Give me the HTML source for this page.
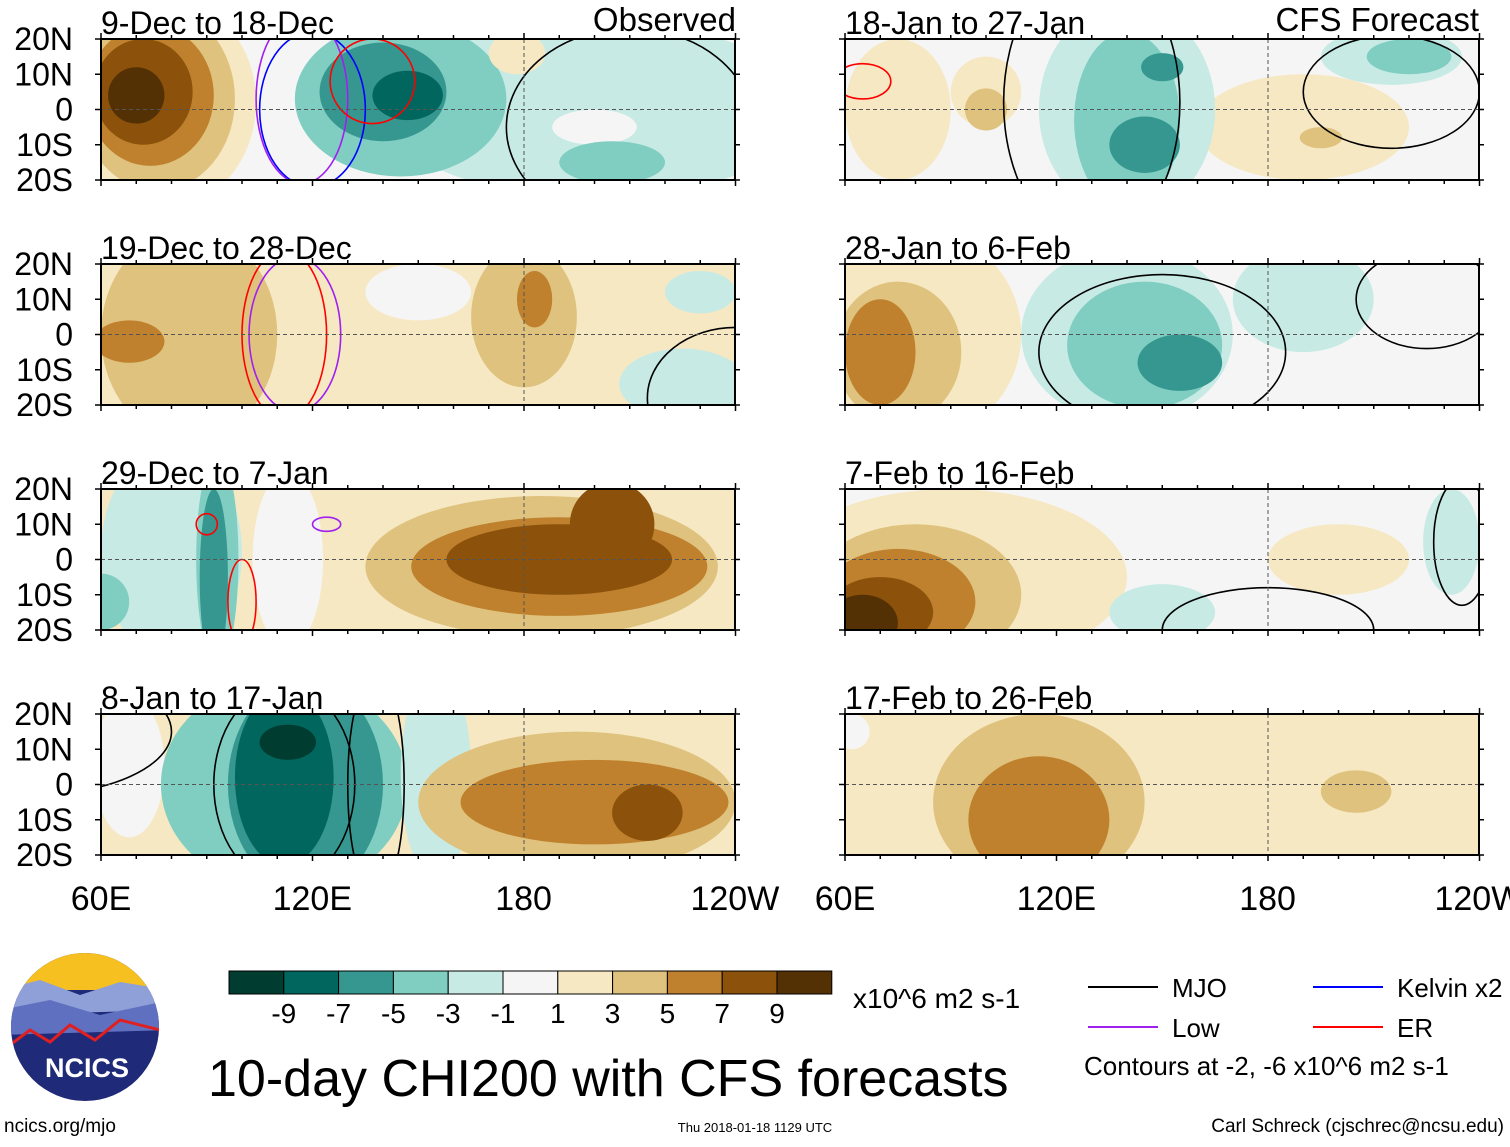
<!DOCTYPE html>
<html><head><meta charset="utf-8">
<style>
body{margin:0;background:#fff;width:1510px;height:1142px;overflow:hidden;font-family:"Liberation Sans",sans-serif;}
svg text{font-family:"Liberation Sans",sans-serif;}
</style></head>
<body>
<svg id="chart" width="1510" height="1142" xmlns="http://www.w3.org/2000/svg"></svg>
<script>
const colors=["#003c30","#01665e","#35978f","#80cdc1","#c7eae5","#f5f5f5","#f6e8c3","#dfc27d","#bf812d","#8c510a","#543005"];
const cbLabels=["-9","-7","-5","-3","-1","1","3","5","7","9"];
const titles=["9-Dec to 18-Dec","19-Dec to 28-Dec","29-Dec to 7-Jan","8-Jan to 17-Jan","18-Jan to 27-Jan","28-Jan to 6-Feb","7-Feb to 16-Feb","17-Feb to 26-Feb"];
const latLabels=["20N","10N","0","10S","20S"];
const lonLabels=["60E","120E","180","120W"];
const bgLevels=[5,6,6,6,5,5,5,6];
// blobs: [lon, lat, rxDeg, ryDeg, levelIndex]
const blobs0=[[200,0,60,25,4],[78,2,26,30,6],[76,3,22,26,7],[74,4,18,20,8],[72,5,14,15,9],[70,4,8,8,10],[145,3,30,22,3],[140,5,18,14,2],[147,4,10,7,1],[200,-5,12,5,5],[178,16,8,6,6],[205,-15,15,6,3]];
const blobs1=[[85,0,25,30,7],[68,-2,10,6,8],[180,5,15,20,7],[183,10,5,8,8],[225,-14,18,10,4],[230,12,10,6,4],[150,12,15,8,5]];
const blobs2=[[80,2,20,30,4],[93,0,6,30,3],[92,-5,4,25,2],[113,0,10,25,5],[185,-2,50,20,7],[190,-2,42,14,8],[190,0,32,10,9],[205,10,12,12,9],[60,-12,8,8,3]];
const blobs3=[[68,5,10,20,5],[112,0,35,30,3],[118,0,22,30,2],[112,2,14,25,1],[113,12,8,5,0],[155,3,10,30,4],[195,-5,45,20,7],[200,-5,38,12,8],[215,-8,10,8,9]];
const blobs4=[[75,0,15,20,6],[100,5,10,10,6],[100,0,6,6,7],[190,-5,30,15,6],[195,-8,6,3,7],[140,0,25,30,4],[140,-3,15,25,3],[145,-10,10,8,2],[150,12,6,4,2],[215,15,20,8,4],[220,15,12,5,3]];
const blobs5=[[80,0,30,30,6],[75,-5,18,20,7],[70,-5,10,15,8],[190,10,20,15,4],[140,0,30,25,4],[145,-3,22,18,3],[155,-8,12,8,2]];
const blobs6=[[90,-5,50,25,6],[80,-10,30,20,7],[75,-12,22,15,8],[70,-15,15,10,9],[65,-18,10,8,10],[150,-15,15,8,4],[200,0,20,10,6],[232,5,8,15,4]];
const blobs7=[[115,-5,30,25,7],[115,-10,20,18,8],[205,-2,10,6,7],[62,15,5,5,5]];
const allBlobs=[blobs0,blobs1,blobs2,blobs3,blobs4,blobs5,blobs6,blobs7];
// contour rings: [panel, lon, lat, rxDeg, ryDeg, color]
const rings=[[0,120,0,15,22,"#00f"],[0,117,3,13,24,"#a020f0"],[0,137,8,12,12,"#f00"],[0,210,-5,35,28,"#000"],
 [1,115,0,13,22,"#a020f0"],[1,112,0,12,24,"#f00"],[1,240,-18,25,20,"#000"],
 [2,100,-12,4,12,"#f00"],[2,124,10,4,2,"#a020f0"],[2,90,10,3,3,"#f00"],
 [3,112,0,20,28,"#000"],[3,40,15,40,18,"#000"],[3,138,0,8,32,"#000"],
 [4,65,8,8,5,"#f00"],[4,130,2,25,40,"#000"],[4,215,5,25,16,"#000"],
 [5,150,-5,35,22,"#000"],[5,225,10,20,14,"#000"],
 [6,180,-20,30,12,"#000"],[6,235,5,8,18,"#000"]];

const svg=document.getElementById('chart');
const NS="http://www.w3.org/2000/svg";
function mk(t,a,p){const e=document.createElementNS(NS,t);for(const k in a)e.setAttribute(k,a[k]);(p||svg).appendChild(e);return e;}
const S=3.525, tops=[39,264,489,714], lefts=[101,845], W=634, H=141;
const defs=mk('defs',{});
const groups=[];
for(let i=0;i<8;i++){
  const col=i<4?0:1,row=i%4,L=lefts[col],T=tops[row];
  const xs=lon=>L+(lon-60)*S, ys=lat=>T+(20-lat)*S;
  const cp=mk('clipPath',{id:'c'+i},defs);mk('rect',{x:L,y:T,width:W,height:H},cp);
  const g=mk('g',{'clip-path':'url(#c'+i+')'});
  
  
  mk('rect',{x:L,y:T,width:W,height:H,fill:colors[bgLevels[i]]},g);
  for(const b of allBlobs[i]){
    const e=mk('ellipse',{cx:xs(b[0]),cy:ys(b[1]),rx:b[2]*S,ry:b[3]*S,fill:colors[b[4]]},g);
    
    
  }
  for(const r of rings){ if(r[0]!==i)continue;
    const e=mk('ellipse',{cx:xs(r[1]),cy:ys(r[2]),rx:r[3]*S,ry:r[4]*S,fill:'none',stroke:r[5],'stroke-width':1.6},g);
    
    
  }
  mk('line',{x1:L,x2:L+W,y1:ys(0),y2:ys(0),stroke:'#555','stroke-dasharray':'4,3','stroke-width':1},g);
  mk('line',{x1:xs(180),x2:xs(180),y1:T,y2:T+H,stroke:'#555','stroke-dasharray':'4,3','stroke-width':1},g);
  mk('rect',{x:L,y:T,width:W,height:H,fill:'none',stroke:'#000','stroke-width':2});
  for(let lon=60;lon<=240;lon+=10){const big=lon%60==0;
    mk('line',{x1:xs(lon),x2:xs(lon),y1:T,y2:T-(big?6:4),stroke:'#000','stroke-width':1.5});
    mk('line',{x1:xs(lon),x2:xs(lon),y1:T+H,y2:T+H+(big?6:4),stroke:'#000','stroke-width':1.5});}
  for(let lat=-20;lat<=20;lat+=10){mk('line',{x1:L-6,x2:L,y1:ys(lat),y2:ys(lat),stroke:'#000','stroke-width':1.5});mk('line',{x1:L+W,x2:L+W+5,y1:ys(lat),y2:ys(lat),stroke:'#000','stroke-width':1.5});}
  const t=mk('text',{x:L,y:T-5,'font-size':32,fill:'#000',textLength:i==0?252:null});
  t.removeAttribute('textLength');
  t.textContent=titles[i];
  
  if(col==0){latLabels.forEach((s,k)=>{const tt=mk('text',{x:73,y:T+k*35.25+11,'font-size':32,'text-anchor':'end'});tt.textContent=s;
    });}
}
let t=mk('text',{x:736,y:31,'font-size':33,'text-anchor':'end'});t.textContent='Observed';
t=mk('text',{x:1479,y:31,'font-size':33,'text-anchor':'end'});t.textContent='CFS Forecast';
[0,1].forEach(c=>lonLabels.forEach((s,k)=>{const tt=mk('text',{x:lefts[c]+k*211.3,y:910,'font-size':34,'text-anchor':'middle'});tt.textContent=s;
  }));
// colorbar
const cb=mk('g',{});
colors.forEach((c,k)=>mk('rect',{x:229+k*54.8,y:971,width:54.8,height:23,fill:c,stroke:'#000','stroke-width':1},cb));
cbLabels.forEach((s,k)=>{const tt=mk('text',{x:229+(k+1)*54.8,y:1023,'font-size':28,'text-anchor':'middle'},cb);tt.textContent=s;});
t=mk('text',{x:853,y:1008,'font-size':28});t.textContent='x10^6 m2 s-1';
t=mk('text',{x:208,y:1096,'font-size':52});t.textContent='10-day CHI200 with CFS forecasts';
// legend
const lg=mk('g',{});
[[1088,987,'#000','MJO'],[1313,987,'#00f','Kelvin x2'],[1088,1027,'#a020f0','Low'],[1313,1027,'#f00','ER']].forEach(a=>{
  mk('line',{x1:a[0],x2:a[0]+70,y1:a[1],y2:a[1],stroke:a[2],'stroke-width':2},lg);
  const tt=mk('text',{x:a[0]+84,y:a[1]+10,'font-size':26},lg);tt.textContent=a[3];});
t=mk('text',{x:1084,y:1075,'font-size':26});t.textContent='Contours at -2, -6 x10^6 m2 s-1';
t=mk('text',{x:4,y:1132,'font-size':19});t.textContent='ncics.org/mjo';
t=mk('text',{x:755,y:1132,'font-size':13,'text-anchor':'middle'});t.textContent='Thu 2018-01-18 1129 UTC';
t=mk('text',{x:1504,y:1132,'font-size':19,'text-anchor':'end'});t.textContent='Carl Schreck (cjschrec@ncsu.edu)';
// logo
const lo=mk('g',{});
const lc=mk('clipPath',{id:'logoc'},defs);mk('circle',{cx:85,cy:1027,r:74},lc);
const lg2=mk('g',{'clip-path':'url(#logoc)'},lo);
mk('rect',{x:0,y:950,width:170,height:160,fill:'#1f2a78'},lg2);
mk('rect',{x:0,y:950,width:170,height:40,fill:'#f5c020'},lg2);
mk('path',{d:'M0 990 L40 980 L80 995 L120 982 L170 990 L170 1010 L0 1015Z',fill:'#8fa0d8'},lg2);
mk('path',{d:'M0 1010 L50 1000 L100 1015 L170 1000 L170 1030 L0 1035Z',fill:'#6070c0'},lg2);
mk('path',{d:'M10 1045 L30 1030 L50 1042 L70 1025 L95 1040 L120 1020 L160 1030',fill:'none',stroke:'#e02020','stroke-width':3},lg2);
t=mk('text',{x:87,y:1077,'font-size':27,'font-weight':'bold',fill:'#fff','text-anchor':'middle'},lo);t.textContent='NCICS';
</script>
</body></html>
